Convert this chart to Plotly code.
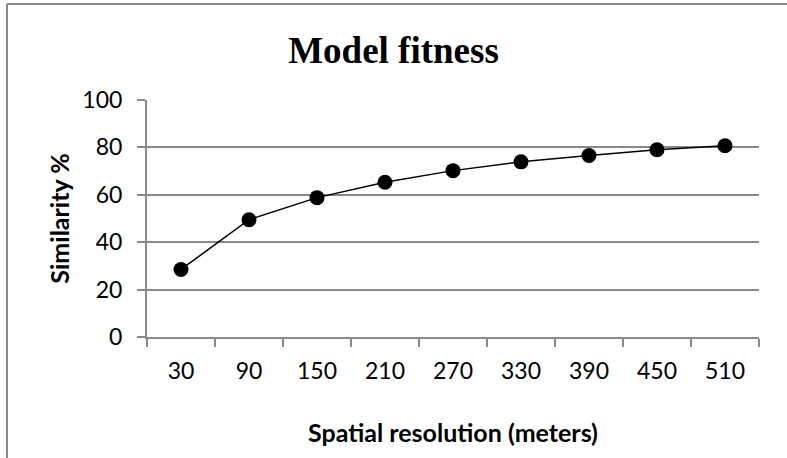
import plotly.graph_objects as go

categories = ["30", "90", "150", "210", "270", "330", "390", "450", "510"]
similarity = [28.5, 49.5, 58.8, 65.3, 70.2, 73.9, 76.6, 79.0, 80.7]
y_ticks = [0, 20, 40, 60, 80, 100]

GRAY = "#898989"
FONT = "Lato"

fig = go.Figure()
fig.add_trace(go.Scatter(
    x=categories, y=similarity, mode="lines+markers",
    line=dict(color="black", width=1.5),
    marker=dict(color="black", size=15),
    showlegend=False,
))

fig.update_layout(
    width=787, height=458,
    margin=dict(l=147, r=28, t=100, b=121),
    paper_bgcolor="white", plot_bgcolor="white",
    title=dict(text="<b>Model fitness</b>", x=0.5, xanchor="center",
               y=1 - 50 / 458, yanchor="middle",
               font=dict(family="Liberation Serif", size=37, color="black")),
    font=dict(family=FONT, color="black"),
    xaxis=dict(
        type="category", range=[-0.5, 8.5], tickson="boundaries",
        showline=True, linecolor=GRAY, linewidth=2,
        ticks="outside", ticklen=8, tickcolor=GRAY, tickwidth=2,
        ticklabelstandoff=12,
        showgrid=False, tickfont=dict(size=23, family=FONT),
        title=dict(text="<b>Spatial resolution (meters)</b>", standoff=42,
                   font=dict(size=25, family=FONT)),
    ),
    yaxis=dict(
        range=[0, 100], tickvals=y_ticks,
        showline=True, linecolor=GRAY, linewidth=2,
        ticks="outside", ticklen=8, tickcolor=GRAY, tickwidth=2,
        ticklabelstandoff=10,
        showgrid=True, gridcolor=GRAY, gridwidth=2,
        zeroline=False, tickfont=dict(size=23, family=FONT),
        title=dict(text="<b>Similarity %</b>", standoff=6,
                   font=dict(size=25, family=FONT)),
    ),
)

# chart frame (left and top edges visible)
x0 = (7 - 147) / 612
ytop = (337 - 4) / 237
fig.add_shape(type="line", xref="paper", yref="paper", x0=x0, x1=x0,
              y0=-2, y1=ytop, line=dict(color=GRAY, width=2))
fig.add_shape(type="line", xref="paper", yref="paper", x0=x0, x1=2,
              y0=ytop, y1=ytop, line=dict(color=GRAY, width=2))

fig.write_html("out.html")
